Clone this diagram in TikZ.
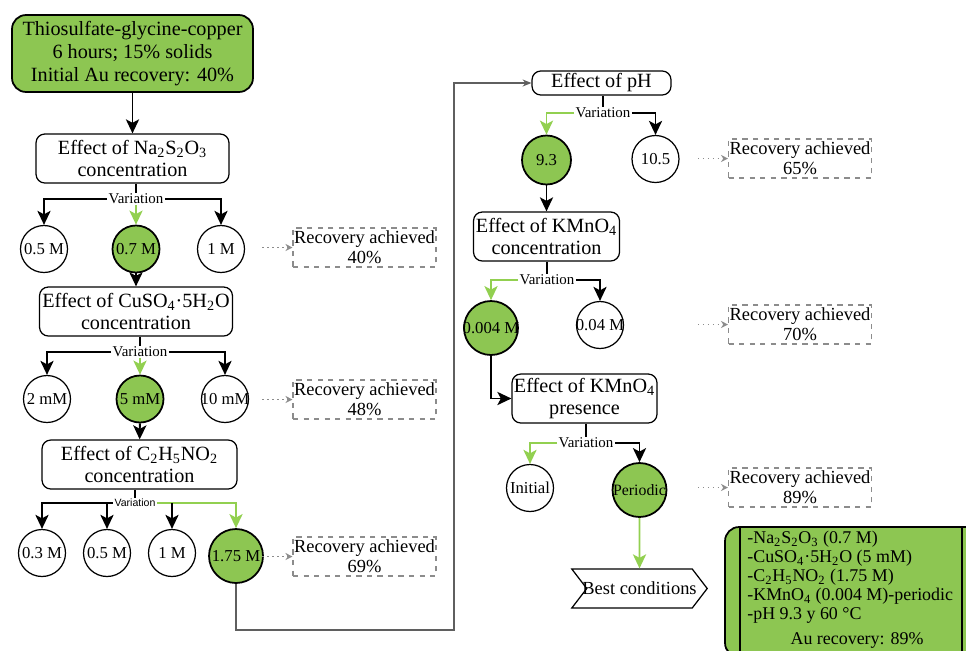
\documentclass[tikz,border=0pt]{standalone}
\usepackage{fontspec}
\setmainfont{Liberation Serif}
\setsansfont{Liberation Sans}
\usetikzlibrary{arrows.meta,shapes.symbols}

% colours
\definecolor{leaf}{RGB}{141,198,82}
\definecolor{leafline}{RGB}{146,208,80}
\definecolor{dashgray}{RGB}{140,140,140}
\definecolor{loopgray}{RGB}{95,95,95}

% text in a circle keeps the circle at its own size
\newcommand{\circtxt}[1]{\makebox[0pt]{#1}}

\tikzset{
  stage/.style={draw, rounded corners=5pt, line width=0.7pt, align=center,
    fill=white, inner sep=0pt, font=\fontsize{11.5}{13}\selectfont},
  opt/.style={circle, draw, line width=0.7pt, minimum size=0.94cm,
    inner sep=0pt, font=\fontsize{9.5}{10}\selectfont},
  pick/.style={opt, fill=leaf, line width=1pt},
  result/.style={draw=dashgray, dashed, line width=0.6pt, align=center,
    minimum width=2.86cm, minimum height=0.78cm, inner sep=0pt,
    font=\fontsize{10.5}{11.4}\selectfont},
  var/.style={fill=white, inner sep=0.6pt, font=\fontsize{8.5}{9}\selectfont},
  arr/.style={line width=1.1pt, -{Stealth[length=8pt,width=7.5pt,inset=2pt]}},
  garr/.style={arr, draw=leafline},
  dotarr/.style={draw=dashgray, dotted, line width=0.8pt,
    -{Stealth[open,length=4pt,width=4pt]}},
}

\begin{document}
\begin{tikzpicture}[x=0.02cm, y=-0.02cm]

  \useasboundingbox (0,0) rectangle (966,650);

  % Starting conditions
  \node[stage, fill=leaf, line width=1pt, rounded corners=8pt,
    minimum width=4.82cm, minimum height=1.54cm] (start) at (132.5,53.5)
    {Thiosulfate-glycine-copper\\6 hours; 15\% solids\\Initial Au recovery: 40\%};

  % --- Thiosulfate concentration ---
  \node[stage, minimum width=3.86cm, minimum height=0.98cm] (s1) at (132.5,158.5)
    {Effect of Na\textsubscript{2}S\textsubscript{2}O\textsubscript{3}\\concentration};
  \node[var] (v1) at (136,199) {Variation};
  \node[opt]  (c11) at (44,249)    {\circtxt{0.5 M}};
  \node[pick] (c12) at (136,249)   {\circtxt{0.7 M}};
  \node[opt]  (c13) at (221,249)   {\circtxt{1 M}};
  \node[result] (r1) at (364.5,247.5) {Recovery achieved\\40\%};

  \draw[arr] (start) -- (s1);
  \draw[line width=1.1pt] (s1.south -| v1.north) -- (v1.north);
  \draw[arr] (v1.west) -| (c11.north);
  \draw[arr] (v1.east) -| (c13.north);
  \draw[garr] (v1.south) -- (c12.north);
  \draw[dotarr] ([xshift=-0.6cm]r1.west) -- (r1.west);

  % --- Copper sulfate concentration ---
  \node[stage, minimum width=3.86cm, minimum height=0.98cm] (s2) at (136,311.5)
    {Effect of CuSO\textsubscript{4}·5H\textsubscript{2}O\\concentration};
  \node[var] (v2) at (140,352) {Variation};
  \node[opt]  (c21) at (47,399)    {\circtxt{2 mM}};
  \node[pick] (c22) at (140,399)   {\circtxt{5 mM}};
  \node[opt]  (c23) at (225,399)   {\circtxt{10 mM}};
  \node[result] (r2) at (364.5,399.5) {Recovery achieved\\48\%};

  \draw[arr] (c12) -- (s2);
  \draw[line width=1.1pt] (s2.south -| v2.north) -- (v2.north);
  \draw[arr] (v2.west) -| (c21.north);
  \draw[arr] (v2.east) -| (c23.north);
  \draw[garr] (v2.south) -- (c22.north);
  \draw[dotarr] ([xshift=-0.6cm]r2.west) -- (r2.west);

  % --- Glycine concentration ---
  \node[stage, minimum width=3.9cm, minimum height=0.98cm] (s3) at (139.5,464.5)
    {Effect of C\textsubscript{2}H\textsubscript{5}NO\textsubscript{2}\\concentration};
  \node[var, font=\sffamily\fontsize{6}{7}\selectfont] (v3) at (135,503) {Variation};
  \node[opt]  (c31) at (42,553)    {\circtxt{0.3 M}};
  \node[opt]  (c32) at (107,553)   {\circtxt{0.5 M}};
  \node[opt]  (c33) at (172,553)   {\circtxt{1 M}};
  \node[pick, minimum size=1.08cm] (c34) at (236,556) {\circtxt{1.75 M}};
  \node[result] (r3) at (364.5,556.5) {Recovery achieved\\69\%};

  \draw[arr] (c22) -- (s3);
  \draw[line width=1.1pt] (s3.south -| v3.north) -- (v3.north);
  \draw[arr] (v3.west) -| (c31.north);
  \draw[arr] (c32.north |- v3.west) -- (c32.north);
  \draw[garr] (v3.east) -| (c34.north);
  \draw[arr] (c33.north |- v3.east) -- (c33.north);
  \draw[dotarr] ([xshift=-0.6cm]r3.west) -- (r3.west);

  % --- pH ---
  \node[stage, minimum width=2.78cm, minimum height=0.48cm] (sph) at (601.5,83)
    {Effect of pH};
  \node[var] (vph) at (603,113) {Variation};
  \node[pick, minimum size=0.98cm] (c41) at (546.5,160) {\circtxt{9.3}};
  \node[opt]  (c42) at (655.5,159) {\circtxt{10.5}};
  \node[result] (r4) at (800,158.5) {Recovery achieved\\65\%};

  % carry on to the second column
  \coordinate (turn) at (454,630);
  \draw[draw=loopgray, line width=0.8pt, -{Stealth[length=5pt,width=4pt]}]
    (c34.south) |- (turn) |- (sph.west);

  \draw[line width=1.1pt] (sph.south -| vph.north) -- (vph.north);
  \draw[garr] (vph.west) -| (c41.north);
  \draw[arr] (vph.east) -| (c42.north);
  \draw[dotarr] ([xshift=-0.6cm]r4.west) -- (r4.west);

  % --- Permanganate concentration ---
  \node[stage, minimum width=2.92cm, minimum height=0.98cm] (s5) at (546.5,236.5)
    {Effect of KMnO\textsubscript{4}\\concentration};
  \node[var] (v5) at (547,280) {Variation};
  \node[pick, minimum size=1.08cm] (c51) at (491,328) {\circtxt{0.004 M}};
  \node[opt]  (c52) at (600,325) {\circtxt{0.04 M}};
  \node[result] (r5) at (800,324.5) {Recovery achieved\\70\%};

  \draw[arr] (c41) -- (s5);
  \draw[line width=1.1pt] (s5.south -| v5.north) -- (v5.north);
  \draw[garr] (v5.west) -| (c51.north);
  \draw[arr] (v5.east) -| (c52.north);
  \draw[dotarr] ([xshift=-0.6cm]r5.west) -- (r5.west);

  % --- Permanganate presence ---
  \node[stage, minimum width=2.9cm, minimum height=0.98cm] (s6) at (584.5,398.5)
    {Effect of KMnO\textsubscript{4}\\presence};
  \node[var] (v6) at (586,443) {Variation};
  \node[opt]  (c61) at (530,488) {\circtxt{Initial}};
  \node[pick, minimum size=1.08cm, font=\fontsize{9}{10}\selectfont] (c62) at (639.5,490)
    {\circtxt{Periodic}};
  \node[result] (r6) at (800,487.5) {Recovery achieved\\89\%};

  \draw[arr] (c51.south) |- (s6.west);
  \draw[line width=1.1pt] (s6.south -| v6.north) -- (v6.north);
  \draw[garr] (v6.west) -| (c61.north);
  \draw[arr] (v6.east) -| (c62.north);
  \draw[dotarr] ([xshift=-0.6cm]r6.west) -- (r6.west);

  % --- Best conditions ---
  \node[signal, signal to=east, signal from=west, signal pointer angle=105,
    draw, line width=0.7pt, fill=white, minimum height=0.78cm,
    inner xsep=-2.5pt, inner ysep=1pt, font=\fontsize{10.5}{12}\selectfont]
    (best) at (639.5,588.5) {Best conditions};
  \draw[garr] (c62) -- (best);

  % summary panel
  \node[draw, fill=leaf, line width=1pt, rounded corners=8pt,
    minimum width=5.2cm, minimum height=2.6cm] (sumbox) at (855,592) {};
  \draw[line width=0.8pt] (740,527) -- (740,660);
  \draw[line width=0.8pt] (962,527) -- (962,660);
  \node[anchor=north west, align=left, inner sep=0pt,
    font=\fontsize{10.2}{10.8}\selectfont] (sumlist) at (747,531)
    {-Na\textsubscript{2}S\textsubscript{2}O\textsubscript{3} (0.7 M)\\
     -CuSO\textsubscript{4}·5H\textsubscript{2}O (5 mM)\\
     -C\textsubscript{2}H\textsubscript{5}NO\textsubscript{2} (1.75 M)\\
     -KMnO\textsubscript{4} (0.004 M)-periodic\\
     -pH 9.3 y 60 °C};
  \node[inner sep=0pt, font=\fontsize{10.2}{10.8}\selectfont] (sumau) at (857,640)
    {Au recovery: 89\%};

\end{tikzpicture}
\end{document}
